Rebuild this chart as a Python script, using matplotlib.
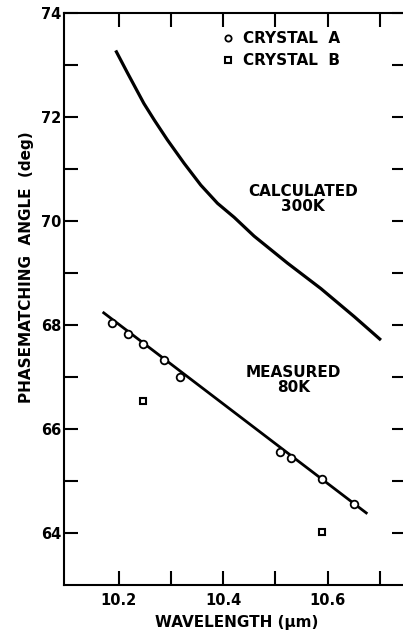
import matplotlib
matplotlib.use("Agg")
import matplotlib.pyplot as plt
from matplotlib.lines import Line2D

plt.rcParams['font.family'] = ['DejaVu Sans']
plt.rcParams['font.weight'] = 'bold'

# Crystal A measurements (wavelength um, angle deg)
a_wl = [10.187, 10.217, 10.247, 10.287, 10.317, 10.509, 10.530, 10.590, 10.650]
a_ang = [68.03, 67.83, 67.63, 67.33, 67.00, 65.55, 65.45, 65.04, 64.55]
# Crystal B measurements
b_wl = [10.247, 10.590]
b_ang = [66.53, 64.02]
# Measured 80K fit line
fit_wl = [10.169, 10.676]
fit_ang = [68.25, 64.37]
# Calculated 300K curve
calc_wl = [10.194, 10.217, 10.248, 10.268, 10.293, 10.325, 10.357, 10.389, 10.421,
           10.459, 10.523, 10.587, 10.651, 10.702]
calc_ang = [73.28, 72.84, 72.26, 71.94, 71.56, 71.11, 70.69, 70.34, 70.07,
            69.71, 69.19, 68.70, 68.16, 67.71]

x_ticks = [10.2, 10.3, 10.4, 10.5, 10.6, 10.7]
x_labels = ['10.2', '', '10.4', '', '10.6', '']
y_ticks = [64, 65, 66, 67, 68, 69, 70, 71, 72, 73, 74]
y_labels = ['64', '', '66', '', '68', '', '70', '', '72', '', '74']

W, H = 403, 635
fig = plt.figure(figsize=(W / 100, H / 100), dpi=100)
left, right, top, bottom = 64, 406, 13, 585
ax = fig.add_axes([left / W, 1 - bottom / H, (right - left) / W, (bottom - top) / H])

ax.set_xlim(10.095, 10.75)
ax.set_ylim(63, 74)

ax.plot(calc_wl, calc_ang, color='black', lw=2.3, solid_capstyle='butt', solid_joinstyle='round')
ax.plot(fit_wl, fit_ang, color='black', lw=2.0, solid_capstyle='butt')
ax.plot(a_wl, a_ang, linestyle='none', marker='o', markersize=5.5,
        markerfacecolor='white', markeredgecolor='black', markeredgewidth=1.3, zorder=3)
ax.plot(b_wl, b_ang, linestyle='none', marker='s', markersize=5,
        markerfacecolor='white', markeredgecolor='black', markeredgewidth=1.5, zorder=3)

for s in ['left', 'bottom', 'top']:
    ax.spines[s].set_linewidth(1.5)
ax.spines['right'].set_visible(False)

ax.set_xticks(x_ticks)
ax.set_xticklabels(x_labels)
ax.set_yticks(y_ticks)
ax.set_yticklabels(y_labels)
ax.tick_params(axis='both', direction='in', length=10, width=1.5,
               top=True, right=True, labelsize=10.5, colors='black')
ax.tick_params(axis='x', pad=6)
ax.tick_params(axis='y', pad=2)
for lab in ax.get_xticklabels() + ax.get_yticklabels():
    lab.set_fontweight('bold')

ax.text(10.5525, 70.43, 'CALCULATED\n300K', ha='center', va='center',
        fontsize=11, fontweight='bold', linespacing=1.0)
ax.text(10.535, 66.95, 'MEASURED\n80K', ha='center', va='center',
        fontsize=11, fontweight='bold', linespacing=1.0)

handles = [
    Line2D([], [], linestyle='none', marker='o', markersize=4.5, markerfacecolor='white',
           markeredgecolor='black', markeredgewidth=1.3),
    Line2D([], [], linestyle='none', marker='s', markersize=4.5, markerfacecolor='white',
           markeredgecolor='black', markeredgewidth=1.5),
]
leg = ax.legend(handles, ['CRYSTAL  A', 'CRYSTAL  B'], loc='upper left',
                bbox_to_anchor=((222 - left) / (right - left), 1 - (31 - top) / (bottom - top)),
                frameon=False, handlelength=0.8, handletextpad=0.6, labelspacing=0.45,
                borderpad=0, borderaxespad=0, prop={'size': 11, 'weight': 'bold'})

fig.text(237 / W, 1 - 623 / H, 'WAVELENGTH (μm)', ha='center', va='center',
         fontsize=11, fontweight='bold')
fig.text(27 / W, 1 - 267 / H, 'PHASEMATCHING  ANGLE  (deg)', ha='center', va='center',
         rotation=90, fontsize=11, fontweight='bold')

fig.savefig('out.png', dpi=100)
